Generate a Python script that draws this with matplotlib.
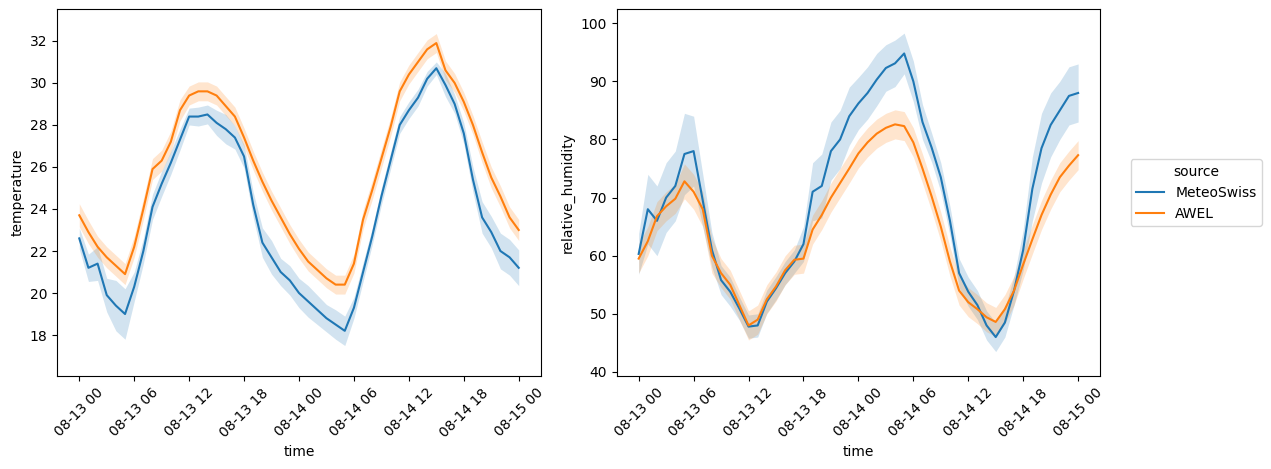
import numpy as np
import pandas as pd
import matplotlib
matplotlib.use('Agg')
import matplotlib.pyplot as plt
import matplotlib.dates as mdates

# hourly readings, 08-13 00 .. 08-15 00
time = pd.date_range('2023-08-13 00:00', periods=49, freq='h')

temp_ms = [22.6, 21.2, 21.4, 19.9, 19.4, 19.0, 20.3, 22.0, 24.1, 25.2,
           26.2, 27.3, 28.4, 28.4, 28.5, 28.1, 27.8, 27.4, 26.5, 24.2,
           22.4, 21.7, 21.0, 20.6, 20.0, 19.6, 19.2, 18.8, 18.5, 18.2,
           19.3, 21.0, 22.7, 24.6, 26.3, 28.0, 28.7, 29.3, 30.2, 30.7,
           29.9, 29.0, 27.6, 25.4, 23.6, 22.9, 22.0, 21.7, 21.2]
temp_ms_ci = [0.5, 0.65, 0.8, 0.8, 1.2, 1.2, 0.7, 0.6, 0.6, 0.6,
              0.55, 0.5, 0.4, 0.45, 0.45, 0.6, 0.7, 0.55, 0.55, 0.6,
              0.7, 0.8, 0.65, 0.7, 0.7, 0.75, 0.7, 0.65, 0.7, 0.7,
              0.5, 0.45, 0.4, 0.4, 0.4, 0.4, 0.4, 0.4, 0.35, 0.3,
              0.55, 0.45, 0.5, 0.6, 0.75, 0.75, 0.85, 0.85, 0.85]

temp_awel = [23.7, 22.9, 22.2, 21.7, 21.3, 20.9, 22.2, 24.0, 25.9, 26.3,
             27.2, 28.7, 29.4, 29.6, 29.6, 29.4, 28.9, 28.4, 27.4, 26.3,
             25.3, 24.4, 23.6, 22.8, 22.1, 21.5, 21.1, 20.7, 20.4, 20.4,
             21.4, 23.5, 24.9, 26.4, 27.9, 29.6, 30.4, 31.0, 31.6, 31.9,
             30.6, 30.0, 29.1, 28.0, 26.7, 25.5, 24.6, 23.6, 23.0]
temp_awel_ci = [0.55, 0.55, 0.5, 0.5, 0.5, 0.5, 0.5, 0.5, 0.5, 0.5,
                0.5, 0.5, 0.45, 0.45, 0.45, 0.45, 0.45, 0.45, 0.45, 0.45,
                0.45, 0.45, 0.45, 0.45, 0.45, 0.45, 0.45, 0.45, 0.45, 0.45,
                0.45, 0.45, 0.45, 0.45, 0.45, 0.45, 0.45, 0.45, 0.45, 0.45,
                0.45, 0.45, 0.45, 0.45, 0.5, 0.5, 0.5, 0.5, 0.5]

rh_ms = [60.3, 68.0, 66.0, 70.0, 72.0, 77.5, 78.0, 69.5, 61.0, 55.8,
         53.8, 50.9, 47.8, 48.0, 52.1, 54.4, 57.0, 59.0, 62.0, 71.0,
         72.0, 78.0, 80.0, 84.0, 86.2, 88.0, 90.3, 92.3, 93.1, 94.8,
         90.0, 83.0, 78.6, 73.5, 66.0, 57.0, 53.8, 51.5, 48.0, 46.0,
         48.5, 54.0, 61.0, 71.5, 78.5, 82.5, 85.0, 87.5, 88.0]
rh_ms_ci = [3.5, 6.0, 6.0, 6.0, 6.0, 7.0, 6.0, 4.5, 3.0, 2.5,
            2.5, 2.0, 2.0, 2.0, 2.0, 2.0, 2.0, 2.0, 3.0, 5.0,
            5.5, 5.0, 5.0, 5.0, 4.5, 4.5, 4.5, 4.0, 4.0, 3.5,
            3.5, 3.0, 2.5, 2.5, 2.5, 2.5, 2.5, 2.5, 2.5, 2.5,
            2.5, 2.5, 3.5, 5.5, 6.0, 5.5, 5.0, 5.0, 5.0]

rh_awel = [59.5, 62.5, 66.8, 68.5, 69.8, 72.8, 71.0, 68.0, 60.0, 57.0,
           55.0, 51.5, 48.0, 49.0, 52.5, 54.7, 57.5, 59.3, 59.5, 64.5,
           67.0, 70.0, 72.5, 75.0, 77.6, 79.5, 81.0, 82.0, 82.6, 82.3,
           79.5, 75.0, 70.2, 65.0, 59.0, 54.0, 52.0, 50.8, 49.4, 48.6,
           50.8, 54.0, 58.5, 62.8, 67.0, 70.5, 73.5, 75.5, 77.3]
rh_awel_ci = [2.5, 2.5, 2.5, 2.5, 2.5, 3.0, 3.0, 3.0, 3.0, 2.5,
              2.5, 2.5, 2.5, 2.5, 2.5, 2.5, 2.5, 2.5, 2.5, 2.5,
              2.5, 2.5, 2.5, 2.5, 2.5, 2.5, 2.5, 2.5, 2.5, 2.5,
              2.5, 2.5, 2.5, 2.5, 2.5, 2.5, 2.5, 2.5, 2.5, 2.5,
              2.5, 2.5, 2.5, 2.5, 2.5, 2.5, 2.5, 2.5, 2.5]

sources = ['MeteoSwiss', 'AWEL']
colors = ['#1f77b4', '#ff7f0e']

W, H = 1271, 469
fig = plt.figure(figsize=(W / 100, H / 100), dpi=100)
ax1 = fig.add_axes([57.3 / W, 1 - 376 / H, 483.4 / W, 367 / H])
ax2 = fig.add_axes([616.7 / W, 1 - 376 / H, 483.4 / W, 367 / H])

panels = [
    (ax1, [temp_ms, temp_awel], [temp_ms_ci, temp_awel_ci], 'temperature', (16.05, 33.52)),
    (ax2, [rh_ms, rh_awel], [rh_ms_ci, rh_awel_ci], 'relative_humidity', (39.3, 102.45)),
]

for ax, series, cis, ylabel, ylim in panels:
    for name, vals, ci, c in zip(sources, series, cis, colors):
        vals = np.array(vals)
        ci = np.array(ci)
        ax.fill_between(time, vals - ci, vals + ci, color=c, alpha=0.2, linewidth=0)
        ax.plot(time, vals, color=c, lw=1.5, label=name)
    ax.set_ylim(*ylim)
    ax.set_xlabel('time')
    ax.set_ylabel(ylabel)
    ax.xaxis.set_major_locator(mdates.HourLocator(byhour=[0, 6, 12, 18]))
    ax.xaxis.set_major_formatter(mdates.DateFormatter('%m-%d %H'))
    ax.tick_params(axis='x', labelrotation=45)

handles, labels = ax2.get_legend_handles_labels()
fig.legend(handles, labels, title='source', loc='center left',
           bbox_to_anchor=(1130.7 / W, 1 - 192.6 / H), borderaxespad=0)

fig.savefig('out.png', dpi=100)
